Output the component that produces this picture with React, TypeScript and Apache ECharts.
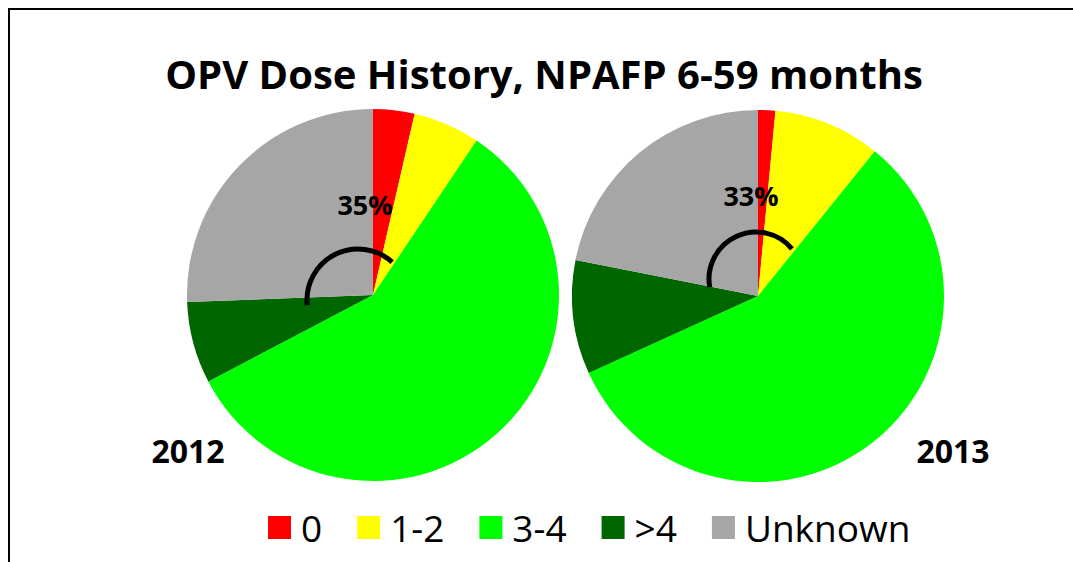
import React, { useEffect, useRef } from "react";
import * as echarts from "echarts";

const titleText = "OPV Dose History, NPAFP 6-59 months";
const categories = ["0", "1-2", "3-4", ">4", "Unknown"];
const sliceColors = ["#FF0000", "#FFFF00", "#00FF00", "#006600", "#A6A6A6"];
const values2012 = [3.6, 5.8, 57.9, 7.1, 25.6];
const values2013 = [1.5, 9.3, 57.4, 9.9, 21.9];
const years = ["2012", "2013"];
const bracketLabels = ["35%", "33%"];

const FONT = '"Open Sans", "DejaVu Sans", sans-serif';

function pieData(values: number[]) {
  return categories.map((name, i) => ({
    name,
    value: values[i],
    itemStyle: { color: sliceColors[i] },
  }));
}

export default function App() {
  const ref = useRef<HTMLDivElement>(null);
  useEffect(() => {
    if (!ref.current) return;
    const chart = echarts.init(ref.current, undefined, { renderer: "svg" });
    const deg = Math.PI / 180;
    const pieCommon = {
      type: "pie" as const,
      radius: 186,
      startAngle: 90,
      clockwise: true,
      silent: true,
      label: { show: false },
      labelLine: { show: false },
      itemStyle: { borderWidth: 0 },
      emphasis: { disabled: true },
    };
    chart.setOption({
      animation: false,
      backgroundColor: "#FFFFFF",
      title: {
        text: titleText,
        left: 544,
        top: 53,
        textAlign: "center",
        padding: 0,
        textStyle: {
          fontFamily: FONT,
          fontWeight: "bold",
          fontSize: 40,
          lineHeight: 40,
          color: "#000000",
        },
      },
      legend: {
        data: categories,
        left: 268,
        top: 509,
        padding: 0,
        itemWidth: 23,
        itemHeight: 23,
        itemGap: 35,
        icon: "rect",
        selectedMode: false,
        textStyle: {
          fontFamily: FONT,
          fontSize: 37,
          lineHeight: 37,
          color: "#000000",
          padding: [0, 0, 0, 5],
        },
      },
      series: [
        { ...pieCommon, name: years[0], center: [373, 295], data: pieData(values2012) },
        { ...pieCommon, name: years[1], center: [758, 296], data: pieData(values2013) },
      ],
      graphic: [
        {
          type: "rect",
          z: 100,
          shape: { x: 9, y: 9, width: 1200, height: 700 },
          style: { fill: "none", stroke: "#000000", lineWidth: 2 },
        },
        {
          type: "arc",
          z: 100,
          shape: { cx: 358, cy: 300, r: 51, startAngle: 174 * deg, endAngle: 312 * deg, clockwise: true },
          style: { fill: "none", stroke: "#000000", lineWidth: 5 },
        },
        {
          type: "arc",
          z: 100,
          shape: { cx: 756, cy: 279, r: 47, startAngle: 170 * deg, endAngle: 320 * deg, clockwise: true },
          style: { fill: "none", stroke: "#000000", lineWidth: 5 },
        },
        {
          type: "text",
          z: 100,
          x: 365,
          y: 204,
          style: { text: bracketLabels[0], fill: "#000", fontFamily: FONT, fontWeight: "bold", fontSize: 27, align: "center", verticalAlign: "middle" },
        },
        {
          type: "text",
          z: 100,
          x: 751,
          y: 195,
          style: { text: bracketLabels[1], fill: "#000", fontFamily: FONT, fontWeight: "bold", fontSize: 27, align: "center", verticalAlign: "middle" },
        },
        {
          type: "text",
          z: 100,
          x: 188,
          y: 450,
          style: { text: years[0], fill: "#000", fontFamily: FONT, fontWeight: "bold", fontSize: 32, align: "center", verticalAlign: "middle" },
        },
        {
          type: "text",
          z: 100,
          x: 953,
          y: 450,
          style: { text: years[1], fill: "#000", fontFamily: FONT, fontWeight: "bold", fontSize: 32, align: "center", verticalAlign: "middle" },
        },
      ],
    });
    return () => chart.dispose();
  }, []);
  return (
    <div
      ref={ref}
      style={{ position: "fixed", left: 0, top: 0, width: 1073, height: 562, background: "#fff" }}
    />
  );
}
